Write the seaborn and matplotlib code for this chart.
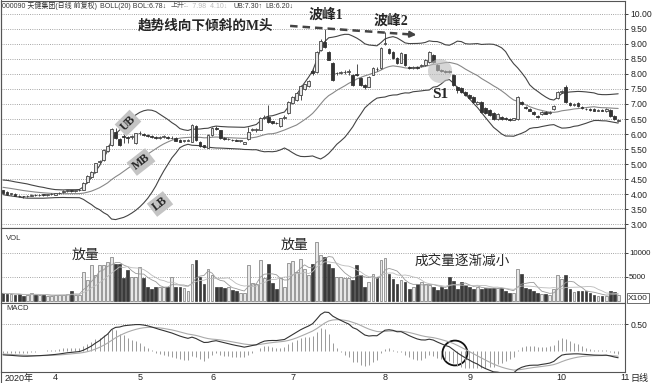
import numpy as np
import pandas as pd
import matplotlib
matplotlib.use("Agg")
import matplotlib.pyplot as plt
import seaborn as sns
from matplotlib.patches import Ellipse

sns.set_style("white")
plt.rcParams['font.family'] = ['Liberation Sans', 'Noto Sans CJK SC', 'DejaVu Sans']

# closes before the visible window (only used to warm up BOLL / MACD)
pre_close = [4.35, 4.38, 4.40, 4.42, 4.38, 4.35, 4.30, 4.32, 4.28, 4.25,
             4.20, 4.22, 4.18, 4.15, 4.10, 4.12, 4.08, 4.10, 4.12, 4.10]

# daily candles, 2020-03-16 .. 2020-11-02
open_px = [4.13, 4.08, 4.00, 4.00, 3.95, 3.93, 3.92, 3.95, 3.97, 3.96,
           3.98, 3.97, 3.99, 3.97, 4.03, 4.06, 4.10, 4.12, 4.10, 4.12,
           4.13, 4.40, 4.58, 4.72, 5.08, 5.13, 5.45, 5.63, 6.07, 5.83,
           5.92, 5.88, 5.90, 5.70, 6.03, 6.00, 5.97, 5.92, 5.88, 5.87,
           5.90, 5.88, 5.86, 5.87, 5.80, 5.77, 5.78, 5.75, 6.28, 5.73,
           5.62, 5.55, 5.97, 6.20, 6.13, 5.87, 5.83, 5.80, 5.80, 5.78,
           5.68, 5.83, 6.14, 6.12, 6.15, 6.55, 6.57, 6.42, 6.38, 6.27,
           6.53, 6.70, 7.03, 7.13, 7.30, 7.50, 7.60, 8.10, 8.05, 8.80,
           9.07, 8.73, 8.37, 8.02, 8.03, 8.05, 8.07, 7.97, 8.00, 7.87,
           7.62, 7.57, 7.97, 8.17, 8.20, 9.00, 8.83, 8.73, 8.53, 8.37,
           8.65, 8.22, 8.20, 8.22, 8.25, 8.30, 8.40, 8.63, 8.30, 8.12,
           8.10, 8.08, 7.97, 7.57, 7.53, 7.40, 7.30, 7.23, 7.00, 7.07,
           6.87, 6.80, 6.70, 6.50, 6.57, 6.52, 6.50, 6.48, 6.50, 7.07,
           6.90, 6.82, 6.72, 6.60, 6.65, 6.72, 6.70, 6.83, 7.20, 7.40,
           7.57, 7.03, 6.97, 7.03, 6.90, 6.83, 6.82, 6.83, 6.78, 6.80,
           6.76, 6.80, 6.60, 6.43]
close_px = [4.05, 4.00, 4.01, 3.95, 3.93, 3.92, 3.94, 3.97, 3.96, 3.98,
            3.97, 3.99, 4.00, 4.02, 4.05, 4.10, 4.12, 4.10, 4.12, 4.13,
            4.37, 4.60, 4.75, 5.03, 5.10, 5.47, 5.60, 6.17, 5.87, 5.63,
            5.90, 5.87, 5.92, 6.03, 6.03, 5.98, 5.95, 5.90, 5.87, 5.88,
            5.90, 5.87, 5.88, 5.78, 5.75, 5.78, 5.80, 6.30, 5.80, 5.60,
            5.57, 5.97, 6.20, 6.18, 5.87, 5.82, 5.84, 5.79, 5.78, 5.78,
            5.72, 6.07, 6.15, 6.17, 6.53, 6.56, 6.40, 6.38, 6.36, 6.53,
            6.57, 7.07, 7.23, 7.37, 7.60, 7.65, 7.77, 8.03, 8.73, 9.10,
            8.90, 8.47, 7.80, 8.03, 8.06, 8.05, 8.08, 7.63, 7.98, 7.63,
            7.57, 7.90, 8.20, 8.15, 8.87, 9.03, 8.70, 8.53, 8.37, 8.70,
            8.30, 8.20, 8.22, 8.20, 8.30, 8.47, 8.72, 8.40, 8.13, 8.10,
            8.05, 8.07, 7.63, 7.45, 7.40, 7.30, 7.20, 7.07, 7.05, 6.73,
            6.70, 6.63, 6.50, 6.67, 6.50, 6.50, 6.48, 6.52, 7.23, 7.00,
            6.87, 6.78, 6.65, 6.58, 6.72, 6.68, 6.72, 6.93, 7.40, 7.42,
            7.07, 6.97, 6.98, 6.93, 6.85, 6.82, 6.80, 6.78, 6.80, 6.78,
            6.82, 6.60, 6.50, 6.47]
high_px = [4.15, 4.10, 4.03, 4.02, 3.97, 3.95, 3.98, 4.00, 3.99, 4.00,
           4.00, 4.01, 4.02, 4.03, 4.08, 4.13, 4.15, 4.14, 4.14, 4.16,
           4.40, 4.62, 4.78, 5.05, 5.15, 5.50, 5.65, 6.20, 6.20, 5.88,
           6.00, 5.95, 5.97, 6.05, 6.10, 6.05, 6.00, 5.97, 5.93, 5.95,
           5.96, 5.92, 5.92, 5.89, 5.82, 5.80, 5.82, 6.32, 6.30, 5.76,
           5.64, 6.00, 6.25, 6.27, 6.15, 5.90, 5.88, 5.83, 5.82, 5.81,
           5.74, 6.23, 6.20, 6.20, 6.56, 6.62, 6.97, 6.45, 6.40, 6.55,
           6.63, 7.10, 7.27, 7.40, 7.63, 7.68, 7.80, 8.15, 8.75, 9.15,
           9.50, 8.78, 8.40, 8.08, 8.10, 8.12, 8.15, 8.00, 8.33, 7.90,
           7.65, 7.93, 8.23, 8.22, 8.90, 9.40, 8.86, 8.76, 8.56, 8.73,
           8.68, 8.26, 8.27, 8.25, 8.33, 8.50, 8.75, 8.66, 8.33, 8.16,
           8.13, 8.12, 8.00, 7.60, 7.56, 7.43, 7.33, 7.26, 7.10, 7.10,
           6.90, 6.83, 6.73, 6.70, 6.60, 6.56, 6.53, 6.55, 7.26, 7.10,
           6.93, 6.85, 6.75, 6.64, 6.75, 6.75, 6.75, 6.96, 7.43, 7.47,
           7.63, 7.06, 7.02, 7.06, 6.93, 6.86, 6.85, 6.86, 6.83, 6.83,
           6.85, 6.83, 6.63, 6.50]
low_px = [4.03, 3.98, 3.97, 3.93, 3.90, 3.88, 3.90, 3.93, 3.94, 3.94,
          3.95, 3.95, 3.97, 3.96, 4.01, 4.04, 4.08, 4.08, 4.08, 4.10,
          4.12, 4.38, 4.55, 4.70, 5.02, 5.10, 5.40, 5.60, 5.85, 5.60,
          5.70, 5.70, 5.82, 5.68, 5.98, 5.95, 5.90, 5.86, 5.84, 5.85,
          5.86, 5.84, 5.84, 5.76, 5.73, 5.74, 5.76, 5.74, 5.78, 5.57,
          5.53, 5.53, 5.95, 6.12, 5.85, 5.80, 5.80, 5.77, 5.76, 5.75,
          5.66, 5.80, 6.10, 6.08, 6.12, 6.50, 6.38, 6.35, 6.33, 6.25,
          6.50, 6.68, 7.00, 7.10, 7.13, 7.47, 7.57, 7.95, 8.03, 8.75,
          8.85, 8.45, 7.78, 7.97, 8.00, 8.00, 7.98, 7.60, 7.93, 7.60,
          7.50, 7.55, 7.95, 8.10, 8.18, 8.95, 8.67, 8.50, 8.34, 8.35,
          8.27, 8.15, 8.17, 8.16, 8.22, 8.28, 8.38, 8.37, 8.10, 8.05,
          8.02, 8.03, 7.60, 7.38, 7.37, 7.27, 7.17, 7.04, 6.97, 6.70,
          6.67, 6.60, 6.47, 6.48, 6.47, 6.47, 6.45, 6.46, 6.48, 6.97,
          6.84, 6.75, 6.62, 6.55, 6.62, 6.65, 6.67, 6.80, 7.17, 7.37,
          7.03, 6.94, 6.94, 6.90, 6.82, 6.79, 6.77, 6.75, 6.75, 6.75,
          6.73, 6.58, 6.47, 6.40]
volume = [1600, 1500, 1500, 1200, 1400, 1100, 1300, 1700, 1300, 1200,
          1300, 1100, 1000, 1200, 1300, 1300, 1400, 2000, 1300, 1200,
          6000, 4400, 7500, 5400, 7500, 7500, 8100, 9100, 7800, 7600,
          4800, 6400, 5000, 4900, 7000, 4700, 2900, 2500, 3000, 3000,
          3000, 3000, 5000, 2900, 2900, 2800, 2000, 7600, 8500, 5000,
          3500, 6600, 5400, 3000, 3000, 2700, 2900, 2300, 2000, 1600,
          1600, 7500, 3700, 3500, 8500, 4700, 7800, 3700, 2600, 4700,
          3000, 8000, 8300, 6000, 8700, 6600, 5400, 7600, 12300, 9500,
          9100, 7800, 6900, 5000, 4900, 4700, 4700, 4400, 7500, 5400,
          3000, 4000, 5700, 5000, 8500, 9000, 5700, 4500, 3500, 4300,
          3900, 2600, 3000, 3500, 3900, 3500, 3300, 3000, 2300, 3000,
          2500, 4900, 4100, 2500, 3900, 3300, 3000, 2500, 3000, 2400,
          2700, 2700, 2700, 2700, 2700, 2000, 1600, 1700, 6600, 5700,
          2700, 2400, 2000, 1600, 1500, 1500, 1300, 2600, 5500, 4500,
          5400, 2500, 1900, 2100, 2100, 2000, 1600, 1300, 1000, 1100,
          1100, 2000, 1800, 1200]

month_pos = [0, 12, 33, 51, 71, 94, 115, 137, 153]
month_lab = ["2020年", "4", "5", "6", "7", "8", "9", "10", "11"]
price_ticks = [3.0, 3.5, 4.0, 4.5, 5.0, 5.5, 6.0, 6.5, 7.0, 7.5, 8.0, 8.5, 9.0, 9.5, 10.0]
vol_ticks = [5000, 10000]
macd_ticks = [0.5]

n = len(close_px)
idx = np.arange(n)
o = np.array(open_px); c = np.array(close_px)
h = np.array(high_px); l = np.array(low_px)
v = np.array(volume)
up = c >= o

# indicators (same definitions the trading software uses)
allc = pd.Series(pre_close + close_px)
npre = len(pre_close)
mb = allc.rolling(20).mean()
sd = allc.rolling(20).std()
ub = (mb + 2 * sd).values[npre:]
lb = (mb - 2 * sd).values[npre:]
mb = mb.values[npre:]
ema12 = allc.ewm(span=12, adjust=False).mean()
ema26 = allc.ewm(span=26, adjust=False).mean()
dif = ema12 - ema26
dea = dif.ewm(span=9, adjust=False).mean()
hist = (2 * (dif - dea)).values[npre:]
dif = dif.values[npre:]
dea = dea.values[npre:]
vs = pd.Series(v)
ma5 = vs.rolling(5, min_periods=1).mean().values
ma10 = vs.rolling(10, min_periods=1).mean().values

W, H = 653, 383
fig = plt.figure(figsize=(W / 100, H / 100), dpi=100)
ax_p = fig.add_axes([1 / W, (H - 228) / H, 624 / W, 227 / H])
ax_v = fig.add_axes([1 / W, (H - 303) / H, 624 / W, 75 / H])
ax_m = fig.add_axes([1 / W, (H - 372) / H, 624 / W, 69 / H])

for ax in (ax_p, ax_v, ax_m):
    ax.set_xlim(-0.5, 154.7)
    ax.yaxis.tick_right()
    ax.tick_params(axis='y', labelsize=6.2, length=2, width=0.6, pad=2, colors='#222')
    for s in ax.spines.values():
        s.set_color('#555')
        s.set_linewidth(0.8)
    ax.grid(axis='y', ls=':', color='#888', lw=0.6)
    ax.set_axisbelow(True)
ax_v.tick_params(axis='y', labelsize=5.7, pad=1)

# ---- price panel
ax_p.set_ylim(2.87, 10.43)
ax_p.set_yticks(price_ticks)
ax_p.set_yticklabels(["%.2f" % t for t in price_ticks])
ax_p.set_xticks([])
ax_p.vlines(idx, l, h, color='#333', lw=0.6, zorder=2)
body = np.maximum(np.abs(c - o), 0.02)
ax_p.bar(idx[up], body[up], bottom=np.minimum(o, c)[up], width=0.7,
         color='#e4e4e4', edgecolor='#444', lw=0.6, zorder=3)
ax_p.bar(idx[~up], body[~up], bottom=np.minimum(o, c)[~up], width=0.7,
         color='#333', edgecolor='#333', lw=0.6, zorder=3)
sns.lineplot(x=idx, y=ub, ax=ax_p, color='#444', lw=0.8, zorder=1)
sns.lineplot(x=idx, y=mb, ax=ax_p, color='#888', lw=0.8, zorder=1)
sns.lineplot(x=idx, y=lb, ax=ax_p, color='#444', lw=0.8, zorder=1)
ax_p.set_xlabel(""); ax_p.set_ylabel("")

ax_p.add_patch(Ellipse((108.7, 8.1), 6.0, 0.8, color='#bbb', alpha=0.6, lw=0, zorder=4))
ax_p.plot([71.4, 101.0], [9.6, 9.32], ls=(0, (3, 2)), color='#444', lw=1.8)
ax_p.annotate("", xy=(103.5, 9.3), xytext=(100.0, 9.33),
              arrowprops=dict(arrowstyle='-|>', color='#444', lw=1.5, mutation_scale=9))

cjk_b = ['Liberation Serif', 'Noto Sans CJK SC']
fig.text(206 / W, 1 - 26 / H, "趋势线向下倾斜的M头", fontsize=9.8, fontweight='bold',
         family=cjk_b, ha='center', va='center')
fig.text(326 / W, 1 - 15 / H, "波峰1", fontsize=10, fontweight='bold',
         family=cjk_b, ha='center', va='center')
fig.text(391 / W, 1 - 21 / H, "波峰2", fontsize=10, fontweight='bold',
         family=cjk_b, ha='center', va='center')
fig.text(440 / W, 1 - 94 / H, "S1", fontsize=11, fontweight='bold',
         family='Liberation Serif', ha='center', va='center')
for lab, px, py, rot in [("UB", 128, 123, 45), ("MB", 141, 162, 38), ("LB", 160, 204, 38)]:
    fig.text(px / W, 1 - py / H, lab, fontsize=8.5, fontweight='bold', family='Liberation Serif',
             ha='center', va='center', rotation=rot,
             bbox=dict(boxstyle='square,pad=0.2', fc='#c4c4c4', ec='none'))

hdr = dict(fontsize=5.0, va='center', family=['Liberation Sans', 'Noto Sans CJK SC', 'DejaVu Sans'])
fig.text(2 / W, 1 - 6 / H, "000090 天健集团(日线 前复权)", color='#333', **hdr)
fig.text(100 / W, 1 - 6 / H, "BOLL(20) BOL:6.78↓", color='#333', **hdr)
fig.text(171 / W, 1 - 6 / H, "上升:", color='#555', **hdr)
fig.text(186 / W, 1 - 6 / H, "-  7.98  4.10↓", color='#bbb', **hdr)
fig.text(234 / W, 1 - 6 / H, "UB:7.30↑", color='#333', **hdr)
fig.text(265 / W, 1 - 6 / H, "LB:6.20↓", color='#333', **hdr)

# ---- volume panel
ax_v.set_ylim(-416, 15184)
ax_v.set_yticks(vol_ticks)
ax_v.set_yticklabels([str(t) for t in vol_ticks])
ax_v.set_xticks([])
ax_v.bar(idx[up], v[up], width=0.7, color='#e8e8e8', edgecolor='#777', lw=0.5)
ax_v.bar(idx[~up], v[~up], width=0.7, color='#3a3a3a', edgecolor='#3a3a3a', lw=0.5)
sns.lineplot(x=idx, y=ma5, ax=ax_v, color='#999', lw=0.6)
sns.lineplot(x=idx, y=ma10, ax=ax_v, color='#bbb', lw=0.6)
ax_v.set_xlabel(""); ax_v.set_ylabel("")
fig.text(6 / W, 1 - 238 / H, "VOL", fontsize=5.5, color='#333', va='center')
fig.text(628 / W, 1 - 298 / H, "X100", fontsize=6, color='#222', va='center',
         bbox=dict(boxstyle='square,pad=0.15', fc='white', ec='#555', lw=0.6))
fig.text(86 / W, 1 - 255 / H, "放量", fontsize=10, ha='center', va='center', family=cjk_b)
fig.text(295 / W, 1 - 245 / H, "放量", fontsize=10, ha='center', va='center', family=cjk_b)
fig.text(462 / W, 1 - 261 / H, "成交量逐渐减小", fontsize=9.8, ha='center', va='center', family=cjk_b)

# ---- MACD panel
ax_m.set_ylim(-0.389, 0.889)
ax_m.set_yticks(macd_ticks)
ax_m.set_yticklabels(["%.2f" % t for t in macd_ticks])
ax_m.vlines(idx, 0, hist, color='#999', lw=0.7)
sns.lineplot(x=idx, y=dea, ax=ax_m, color='#aaa', lw=0.8)
sns.lineplot(x=idx, y=dif, ax=ax_m, color='#333', lw=0.8)
ax_m.set_xlabel(""); ax_m.set_ylabel("")
ax_m.add_patch(Ellipse((112.4, -0.037), 6.2, 0.46, fill=False, ec='#111', lw=1.3))
fig.text(6 / W, 1 - 309 / H, "MACD", fontsize=5.5, color='#333', va='center')

ax_m.set_xticks(month_pos)
ax_m.set_xticklabels([])
ax_m.set_xticks(np.arange(2, n, 5), minor=True)
ax_m.tick_params(axis='x', which='major', direction='out', length=10, width=0.6, color='#555')
ax_m.tick_params(axis='x', which='minor', direction='out', length=2, width=0.5, color='#777')
for p, lab in zip(month_pos, month_lab):
    fig.text((1 + (p + 0.5) / 155.2 * 624 + 2) / W, 1 - 378 / H, lab, fontsize=6.5,
             va='center', ha='left', color='#222',
             family=['Liberation Sans', 'Noto Sans CJK SC'])
fig.text(630 / W, 1 - 378 / H, "日线", fontsize=6.5, va='center', color='#222',
         family=['Noto Sans CJK SC'])
fig.add_artist(plt.Line2D([1 / W, 1 / W], [0, 1], color='#555', lw=0.8))

fig.savefig("out.png", dpi=100)
